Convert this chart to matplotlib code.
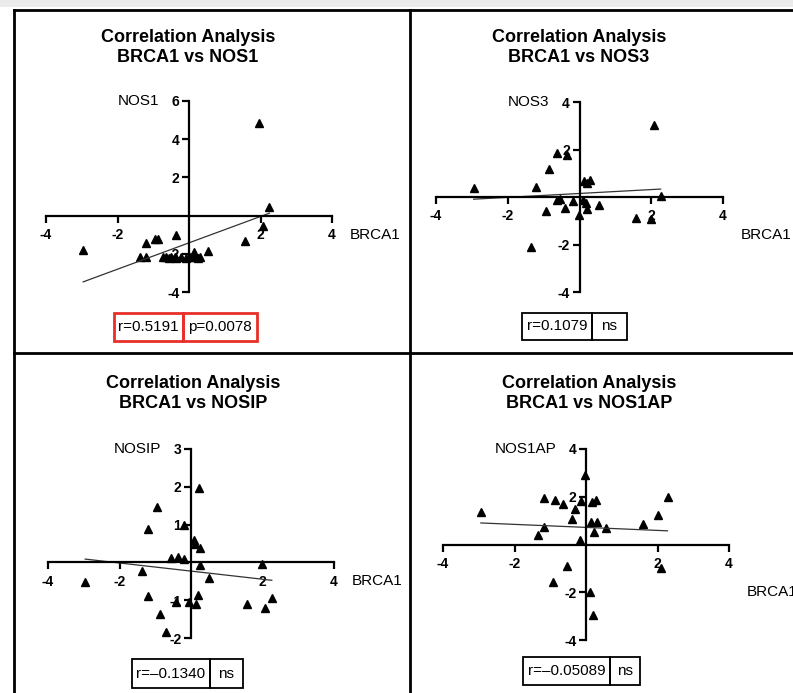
import numpy as np
import matplotlib
matplotlib.use("Agg")
import matplotlib.pyplot as plt
from matplotlib.lines import Line2D
from matplotlib.patches import Rectangle

plt.rcParams["font.family"] = ["Liberation Sans", "DejaVu Sans"]
plt.rcParams["axes.unicode_minus"] = False

# ---- data (BRCA1 on x, NOS gene on y) ----
genes = ["NOS1", "NOS3", "NOSIP", "NOS1AP"]

brca1_nos1 = [-2.96, -1.37, -1.21, -1.21, -0.95, -0.86, -0.35, -0.72, -0.63, -0.55,
              -0.49, -0.40, -0.35, -0.21, -0.08, 0.03, 0.15, 0.24, 0.31, 0.15,
              0.52, 1.57, 2.08, 1.97, 2.25]
nos1 = [-1.81, -2.19, -2.19, -1.46, -1.23, -1.23, -1.02, -2.19, -2.19, -2.21,
        -2.19, -2.19, -2.20, -2.19, -2.21, -2.19, -2.19, -2.20, -2.19, -1.88,
        -1.84, -1.35, -0.53, 4.86, 0.44]

brca1_nos3 = [-2.95, -1.34, -1.20, -0.93, -0.86, -0.62, -0.55, -0.62, -0.34, -0.41,
              -0.19, -0.02, 0.09, 0.17, 0.21, 0.12, 0.21, 0.29, 0.54, 1.58,
              1.99, 2.09, 2.26]
nos3 = [0.38, -2.10, 0.42, -0.57, 1.17, -0.11, -0.08, 1.87, 1.77, -0.46,
        -0.15, -0.74, -0.11, -0.25, -0.49, 0.66, 0.59, 0.70, -0.35, -0.88,
        -0.93, 3.02, 0.03]

brca1_nosip = [-2.96, -1.37, -1.21, -1.19, -0.95, -0.87, -0.70, -0.56, -0.42, -0.35,
               -0.19, -0.19, -0.05, 0.07, 0.12, 0.21, 0.14, 0.19, 0.26, 0.26,
               0.51, 1.57, 1.99, 2.08, 2.26]
nosip = [-0.53, -0.24, 0.88, -0.88, 1.46, -1.37, -1.85, 0.11, -1.06, 0.15,
         0.08, 0.99, -1.06, 0.59, 0.50, 1.96, -1.11, -0.85, 0.39, -0.07,
         -0.42, -1.09, -0.05, -1.20, -0.94]

brca1_nos1ap = [-2.94, -1.33, -1.17, -1.18, -0.93, -0.86, -0.65, -0.54, -0.40, -0.32,
                -0.17, -0.14, -0.03, 0.11, 0.16, 0.28, 0.14, 0.30, 0.22, 0.20,
                0.55, 1.60, 2.00, 2.09, 2.28]
nos1ap = [1.38, 0.38, 0.74, 1.96, -1.56, 1.87, 1.70, -0.92, 1.06, 1.49,
          0.17, 1.84, 2.91, -1.99, 1.80, 1.87, 0.95, 0.95, 0.54, -2.94,
          0.68, 0.85, 1.23, -0.99, 1.99]

r_labels = ["r=0.5191", "r=0.1079", "r=\u20130.1340", "r=\u20130.05089"]
p_labels = ["p=0.0078", "ns", "ns", "ns"]

x_ticks = [-4, -2, 2, 4]
y_ticks = [[6, 4, 2, -2, -4], [4, 2, -2, -4], [3, 2, 1, -1, -2], [4, 2, -2, -4]]

W, H = 793, 693


def fx(px):
    return px / W


def fy(py):
    return 1 - py / H


fig = plt.figure(figsize=(W / 100, H / 100), dpi=100)

# page frame
fig.add_artist(Rectangle((0, fy(7)), 1, 7 / H, transform=fig.transFigure,
                         facecolor="#ebebeb", edgecolor="none"))
frame = dict(color="black", lw=2.0, transform=fig.transFigure)
fig.add_artist(Line2D([fx(14), 1], [fy(10), fy(10)], **frame))
fig.add_artist(Line2D([fx(14), fx(14)], [fy(10), 0], **frame))
fig.add_artist(Line2D([fx(410), fx(410)], [fy(10), 0], **frame))
fig.add_artist(Line2D([fx(14), 1], [fy(353), fy(353)], **frame))

# panel layout: axes box in pixels (left, right, top, bottom), title centre, label offsets
panels = [
    dict(x=brca1_nos1, y=nos1, box=(46, 332, 101, 292), ylim=(-4, 6), tc=(188, 37), bdy=19,
         cells=(114, 183, 257, 313, 341), ec="#e8302a"),
    dict(x=brca1_nos3, y=nos3, box=(436, 723, 102, 292), ylim=(-4, 4), tc=(579, 37), bdy=38,
         cells=(522, 592, 627, 313, 340), ec="black"),
    dict(x=brca1_nosip, y=nosip, box=(48, 334, 449, 638), ylim=(-2, 3), tc=(193, 383), bdy=19,
         cells=(132, 210, 243, 659, 688), ec="black"),
    dict(x=brca1_nos1ap, y=nos1ap, box=(443, 729, 449, 640), ylim=(-4, 4), tc=(589, 383), bdy=47,
         cells=(523, 610, 640, 657, 685), ec="black"),
]

for i, p in enumerate(panels):
    l, r, t, b = p["box"]
    ax = fig.add_axes([fx(l), fy(b), (r - l) / W, (b - t) / H])
    ax.patch.set_visible(False)
    ax.set_xlim(-4, 4)
    ax.set_ylim(*p["ylim"])
    for s in ["top", "right"]:
        ax.spines[s].set_visible(False)
    for s in ["left", "bottom"]:
        ax.spines[s].set_position(("data", 0))
        ax.spines[s].set_linewidth(1.6)
    ax.set_xticks(x_ticks)
    ax.set_xticklabels([str(v) for v in x_ticks])
    ax.set_yticks(y_ticks[i])
    ax.set_yticklabels([str(v) for v in y_ticks[i]])
    ax.tick_params(direction="out", length=5, width=1.6, labelsize=10, pad=2)
    ax.tick_params(axis="x", pad=4)
    for lbl in ax.get_xticklabels() + ax.get_yticklabels():
        lbl.set_fontweight("bold")

    xs = np.array(p["x"])
    ys = np.array(p["y"])
    ax.plot(xs, ys, linestyle="none", marker="^", ms=5.5, color="black", clip_on=False)
    m, c = np.polyfit(xs, ys, 1)
    xl = np.array([xs.min(), xs.max()])
    ax.plot(xl, m * xl + c, color="#333333", lw=0.9)

    ax.annotate(genes[i], xy=(0, p["ylim"][1]), xytext=(-30 * 0.72, 0),
                textcoords="offset points", ha="right", va="center", fontsize=11,
                annotation_clip=False)
    ax.annotate("BRCA1", xy=(4, 0), xytext=(18 * 0.72, -p["bdy"] * 0.72),
                textcoords="offset points", ha="left", va="center", fontsize=11,
                annotation_clip=False)

    cx, cy = p["tc"]
    fig.text(fx(cx), fy(cy), "Correlation Analysis", ha="center", va="center",
             fontsize=13, fontweight="bold")
    fig.text(fx(cx), fy(cy + 20), f"BRCA1 vs {genes[i]}", ha="center", va="center",
             fontsize=13, fontweight="bold")

    x0, xd, x1, top, bot = p["cells"]
    lw = 2.0 if p["ec"] != "black" else 1.3
    for a, z, txt in [(x0, xd, r_labels[i]), (xd, x1, p_labels[i])]:
        fig.add_artist(Rectangle((fx(a), fy(bot)), (z - a) / W, (bot - top) / H,
                                 transform=fig.transFigure, fill=False,
                                 edgecolor=p["ec"], lw=lw))
        fig.text(fx((a + z) / 2), fy((top + bot) / 2), txt, ha="center", va="center",
                 fontsize=11)

fig.savefig("out.png", dpi=100)
